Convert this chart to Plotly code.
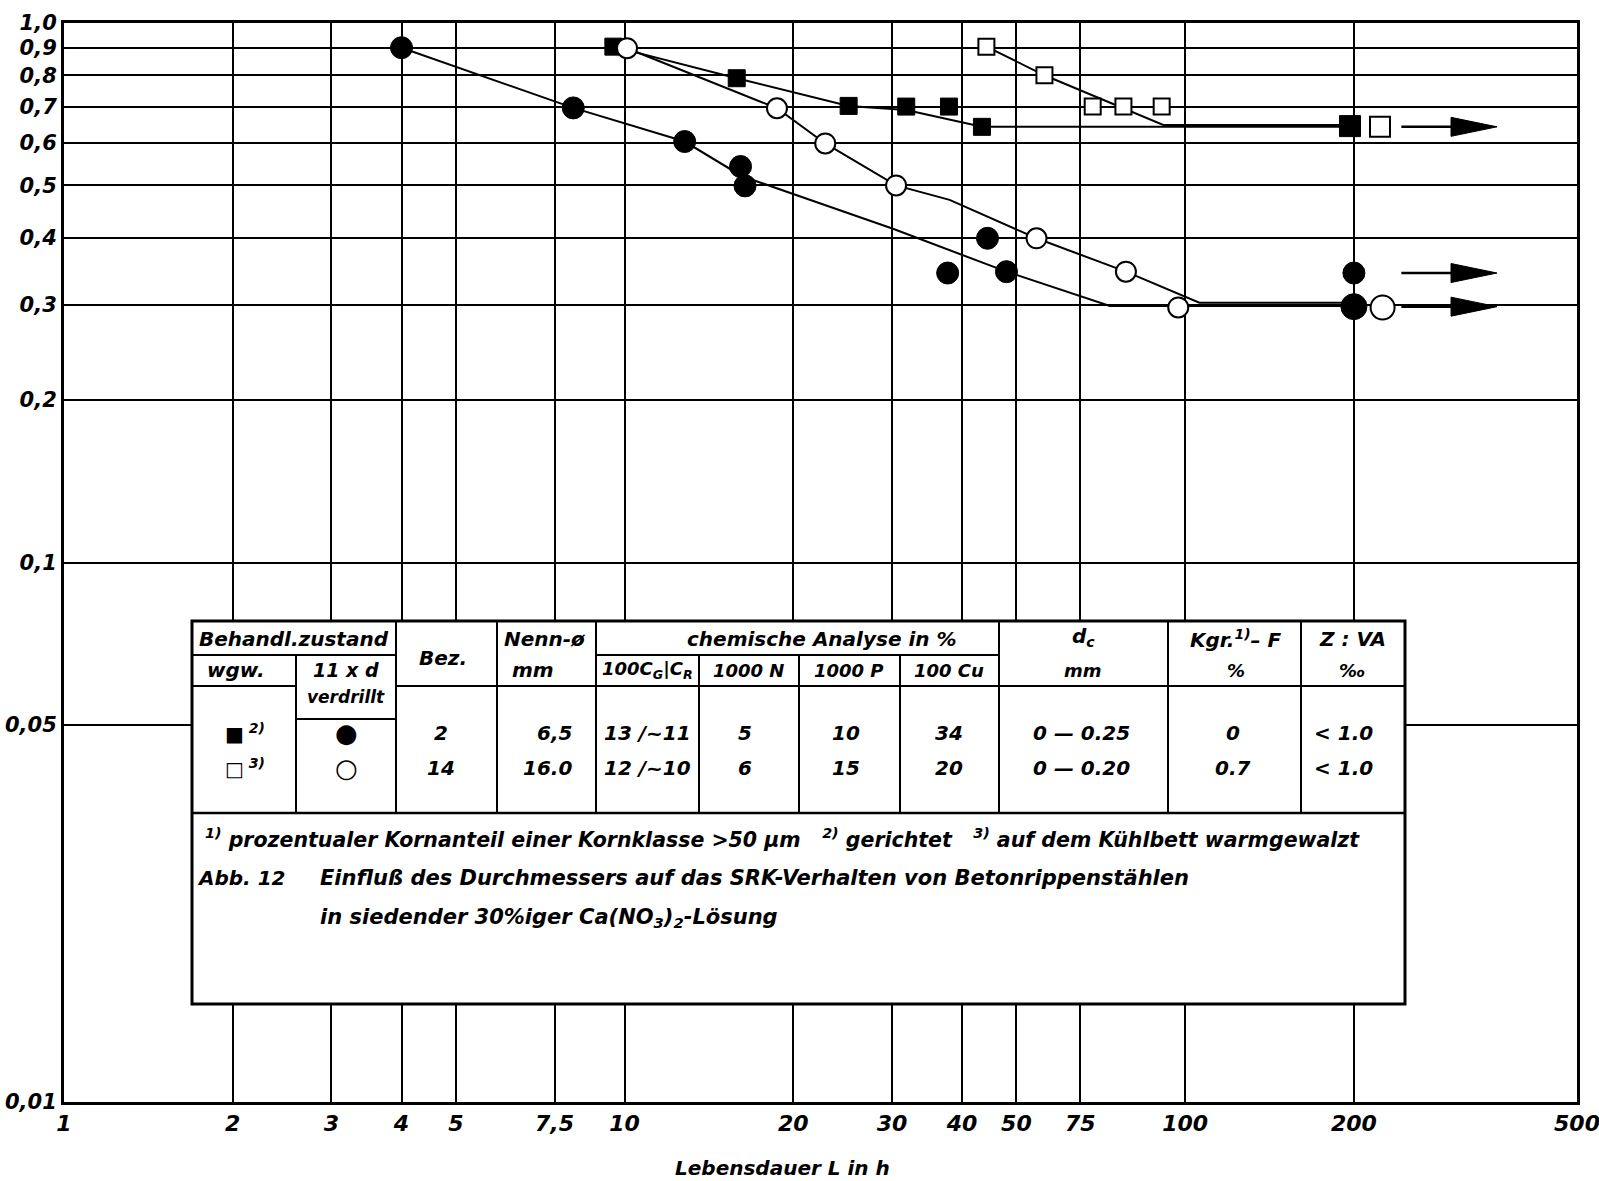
import numpy as np
import plotly.graph_objects as go

# ---------------- data ----------------
# filled circles: Bez. 2, 11xd verdrillt
fc_x = [4.0, 8.1, 12.8, 16.1, 16.4, 37.7, 44.4, 48.0, 200.0, 200.0]
fc_y = [0.90, 0.696, 0.603, 0.542, 0.499, 0.344, 0.399, 0.346, 0.344, 0.298]
# filled squares: Bez. 2, wgw.
fs_x = [9.55, 15.85, 25.1, 31.8, 37.9, 43.4, 196.8]
fs_y = [0.904, 0.79, 0.702, 0.70, 0.70, 0.642, 0.644]
# open circles: Bez. 14, 11xd verdrillt
oc_x = [10.1, 18.7, 22.8, 30.5, 54.3, 78.4, 97.2, 225.0]
oc_y = [0.898, 0.695, 0.598, 0.50, 0.399, 0.346, 0.297, 0.297]
# open squares: Bez. 14, wgw.
os_x = [44.2, 56.1, 68.4, 77.6, 90.8, 222.6]
os_y = [0.904, 0.80, 0.70, 0.70, 0.70, 0.642]

# hand-drawn trend lines
fc_line_x = [4.0, 8.1, 12.8, 16.2, 30.2, 48.0, 73.4, 200.0]
fc_line_y = [0.90, 0.696, 0.603, 0.52, 0.415, 0.346, 0.299, 0.299]
fs_line_x = [9.55, 15.85, 25.1, 31.8, 43.4, 196.8]
fs_line_y = [0.904, 0.79, 0.702, 0.69, 0.642, 0.642]
oc_line_x = [10.1, 18.7, 22.8, 30.5, 38.0, 54.3, 78.4, 106.0, 200.0]
oc_line_y = [0.898, 0.695, 0.598, 0.50, 0.47, 0.399, 0.346, 0.303, 0.303]
os_line_x = [44.2, 56.1, 91.4, 196.8]
os_line_y = [0.904, 0.80, 0.647, 0.647]

# "still unbroken" arrows
arrow_y = [0.642, 0.344, 0.298]
arrow_x_start = 243.0
arrow_x_tip = 360.0

# axis ticks
x_tickvals = [1, 2, 3, 4, 5, 7.5, 10, 20, 30, 40, 50, 65, 100, 200, 500]
x_ticktext = ["1", "2", "3", "4", "5", "7,5", "10", "20", "30", "40", "50", "75", "100", "200", "500"]
y_tickvals = [0.01, 0.05, 0.1, 0.2, 0.3, 0.4, 0.5, 0.6, 0.7, 0.8, 0.9, 1.0]
y_ticktext = ["0,01", "0,05", "0,1", "0,2", "0,3", "0,4", "0,5", "0,6", "0,7", "0,8", "0,9", "1,0"]
x_title = "Lebensdauer L in h"

# table content
tbl_header1 = ["Behandl.zustand", "Nenn-ø", "chemische Analyse in %", "d<sub>c</sub>", "Kgr.<sup>1)</sup>– F", "Z : VA"]
tbl_header2 = ["wgw.", "11 x d", "mm", "100C<sub>G</sub>|C<sub>R</sub>", "1000 N", "1000 P", "100 Cu", "mm", "%", "‰"]
row_bez2 = ["2", "6,5", "13 /~11", "5", "10", "34", "0 — 0.25", "0", "< 1.0"]
row_bez14 = ["14", "16.0", "12 /~10", "6", "15", "20", "0 — 0.20", "0.7", "< 1.0"]
footnote = ("<sup>1)</sup> prozentualer Kornanteil einer Kornklasse >50 µm   "
            "<sup>2)</sup> gerichtet   <sup>3)</sup> auf dem Kühlbett warmgewalzt")
caption_no = "Abb. 12"
caption_1 = "Einfluß des Durchmessers auf das SRK-Verhalten von Betonrippenstählen"
caption_2 = "in siedender 30%iger Ca(NO<sub>3</sub>)<sub>2</sub>-Lösung"

# ---------------- layout geometry (pixels) ----------------
W, H = 1599, 1181
PL, PR, PT, PB = 64, 1577, 23, 1102
FONT = "DejaVu Sans, Liberation Sans, sans-serif"


def px(X):
    return (X - PL) / (PR - PL)


def py(Y):
    return (PB - Y) / (PB - PT)


fig = go.Figure()

line_style = dict(color="black", width=2)
for lx, ly in [(fc_line_x, fc_line_y), (fs_line_x, fs_line_y),
               (oc_line_x, oc_line_y), (os_line_x, os_line_y)]:
    fig.add_trace(go.Scatter(x=lx, y=ly, mode="lines", line=line_style,
                             hoverinfo="skip", showlegend=False))

# arrows: shaft + filled head
head_len = 46 / 560.6   # decades
head_half = 9.5 / 539.6  # decades
for ay in arrow_y:
    base = arrow_x_tip / 10 ** head_len
    fig.add_trace(go.Scatter(x=[arrow_x_start, base], y=[ay, ay], mode="lines",
                             line=dict(color="black", width=2.5),
                             hoverinfo="skip", showlegend=False))
    fig.add_trace(go.Scatter(x=[base, arrow_x_tip, base, base],
                             y=[ay * 10 ** head_half, ay, ay / 10 ** head_half, ay * 10 ** head_half],
                             mode="lines", fill="toself", fillcolor="black",
                             line=dict(color="black", width=1),
                             hoverinfo="skip", showlegend=False))

# markers
fig.add_trace(go.Scatter(x=fs_x, y=fs_y, mode="markers",
                         marker=dict(symbol="square", size=[17, 17, 17, 17, 17, 17, 21], color="black",
                                     opacity=1, line=dict(color="black", width=1)),
                         hoverinfo="skip", showlegend=False))
fig.add_trace(go.Scatter(x=os_x, y=os_y, mode="markers",
                         marker=dict(symbol="square", size=[16, 16, 16, 16, 16, 20], color="white",
                                     opacity=1, line=dict(color="black", width=2)),
                         hoverinfo="skip", showlegend=False))
fig.add_trace(go.Scatter(x=fc_x, y=fc_y, mode="markers",
                         marker=dict(symbol="circle", size=[22] * 8 + [22, 26], color="black",
                                     opacity=1, line=dict(color="black", width=1)),
                         hoverinfo="skip", showlegend=False))
fig.add_trace(go.Scatter(x=oc_x, y=oc_y, mode="markers",
                         marker=dict(symbol="circle", size=[20] * 7 + [24], color="white",
                                     opacity=1, line=dict(color="black", width=2)),
                         hoverinfo="skip", showlegend=False))

# ---------------- table ----------------
shapes = []


def hline(y, x0, x1, w=2):
    shapes.append(dict(type="line", xref="paper", yref="paper", x0=px(x0), x1=px(x1),
                       y0=py(y), y1=py(y), line=dict(color="black", width=w), layer="above"))


def vline(x, y0, y1, w=2):
    shapes.append(dict(type="line", xref="paper", yref="paper", x0=px(x), x1=px(x),
                       y0=py(y0), y1=py(y1), line=dict(color="black", width=w), layer="above"))


T_L, T_R, T_T, T_B = 192, 1405, 621, 1004
R1, R2, R2B, R3 = 655, 686, 719, 813
C = [192, 296, 396, 497, 596, 699, 799, 900, 999, 1168, 1301, 1405]

shapes.append(dict(type="rect", xref="paper", yref="paper", x0=px(T_L), x1=px(T_R),
                   y0=py(T_B), y1=py(T_T), fillcolor="white",
                   line=dict(color="black", width=3), layer="above"))
hline(R1, C[0], C[2]); hline(R1, C[4], C[8])
hline(R2, C[0], C[1]); hline(R2, C[2], C[11])
hline(R2B, C[1], C[2])
hline(R3, C[0], C[11], 2.5)
vline(C[1], R1, R3)
for c in [C[2], C[3], C[4], C[8], C[9], C[10]]:
    vline(c, T_T, R3)
for c in [C[5], C[6], C[7]]:
    vline(c, R1, R3)

annots = []


def txt(X, Y, s, size=20, anchor="center", weight="bold"):
    annots.append(dict(xref="paper", yref="paper", x=px(X), y=py(Y), text=s, showarrow=False,
                       xanchor=anchor, yanchor="middle",
                       font=dict(family=FONT, size=size, color="black", style="italic",
                                 weight=weight)))


Y_H1, Y_H2, Y_D1, Y_D2 = 639, 670, 733, 768
txt(294, Y_H1, tbl_header1[0], size=20)
txt(544, Y_H1, tbl_header1[1], size=20)
txt(822, Y_H1, tbl_header1[2], size=20)
txt(1083, Y_H1 - 2, tbl_header1[3], size=20)
txt(1236, Y_H1, tbl_header1[4], size=20)
txt(1352, Y_H1, tbl_header1[5], size=20)
txt(236, Y_H2, tbl_header2[0], size=20)
txt(346, Y_H2, tbl_header2[1], size=19)
txt(346, 697, "verdrillt", size=17)
txt(443, 658, "Bez.", size=20)
txt(533, Y_H2, tbl_header2[2], size=20)
h2x = [647, 748, 849, 949, 1083, 1236, 1352]
for xx, s in zip(h2x, tbl_header2[3:]):
    txt(xx, Y_H2, s, size=18)

txt(245, Y_D1, "■<sup> 2)</sup>", size=20)
txt(245, Y_D2, "□<sup> 3)</sup>", size=20)
txt(346, Y_D1, "●", size=26, weight="normal")
txt(346, Y_D2, "○", size=26)
dx = [441, 574, 647, 745, 846, 949, 1081, 1233, 1343]
for i, (xx, a, b) in enumerate(zip(dx, row_bez2, row_bez14)):
    anc = "right" if i == 1 else "center"
    txt(xx, Y_D1, a, anchor=anc, size=20)
    txt(xx, Y_D2, b, anchor=anc, size=20)

txt(203, 838, footnote, size=20.5, anchor="left")
txt(195, 878, caption_no, size=20, anchor="left")
txt(318, 878, caption_1, size=21, anchor="left")
txt(318, 918, caption_2, size=21, anchor="left")

# x-axis title
txt(782, 1168, x_title, size=20)

fig.update_layout(
    width=W, height=H,
    margin=dict(l=PL, r=W - PR, t=PT, b=H - PB, pad=0, autoexpand=False),
    paper_bgcolor="white", plot_bgcolor="white",
    showlegend=False,
    shapes=shapes, annotations=annots,
    font=dict(family=FONT, color="black", style="italic"),
)
x_tick_font = dict(family=FONT, size=22, style="italic", color="black", weight="bold")
y_tick_font = dict(family=FONT, size=21, style="italic", color="black", weight="bold")
fig.update_xaxes(type="log", range=[0, np.log10(500)], automargin=False,
                 tickvals=x_tickvals, ticktext=x_ticktext, ticklabeloverflow="allow",
                 showgrid=True, gridcolor="black", gridwidth=2,
                 showline=True, linecolor="black", linewidth=3, mirror=True,
                 ticks="", zeroline=False, tickfont=x_tick_font)
fig.update_yaxes(type="log", range=[-2, 0], automargin=False,
                 tickvals=y_tickvals, ticktext=y_ticktext, ticklabeloverflow="allow",
                 showgrid=True, gridcolor="black", gridwidth=2,
                 showline=True, linecolor="black", linewidth=3, mirror=True,
                 ticks="", zeroline=False, tickfont=y_tick_font)

fig.write_html("out.html", config={"displayModeBar": False},
               post_script="document.body.style.margin='0';document.body.style.overflow='hidden';")
